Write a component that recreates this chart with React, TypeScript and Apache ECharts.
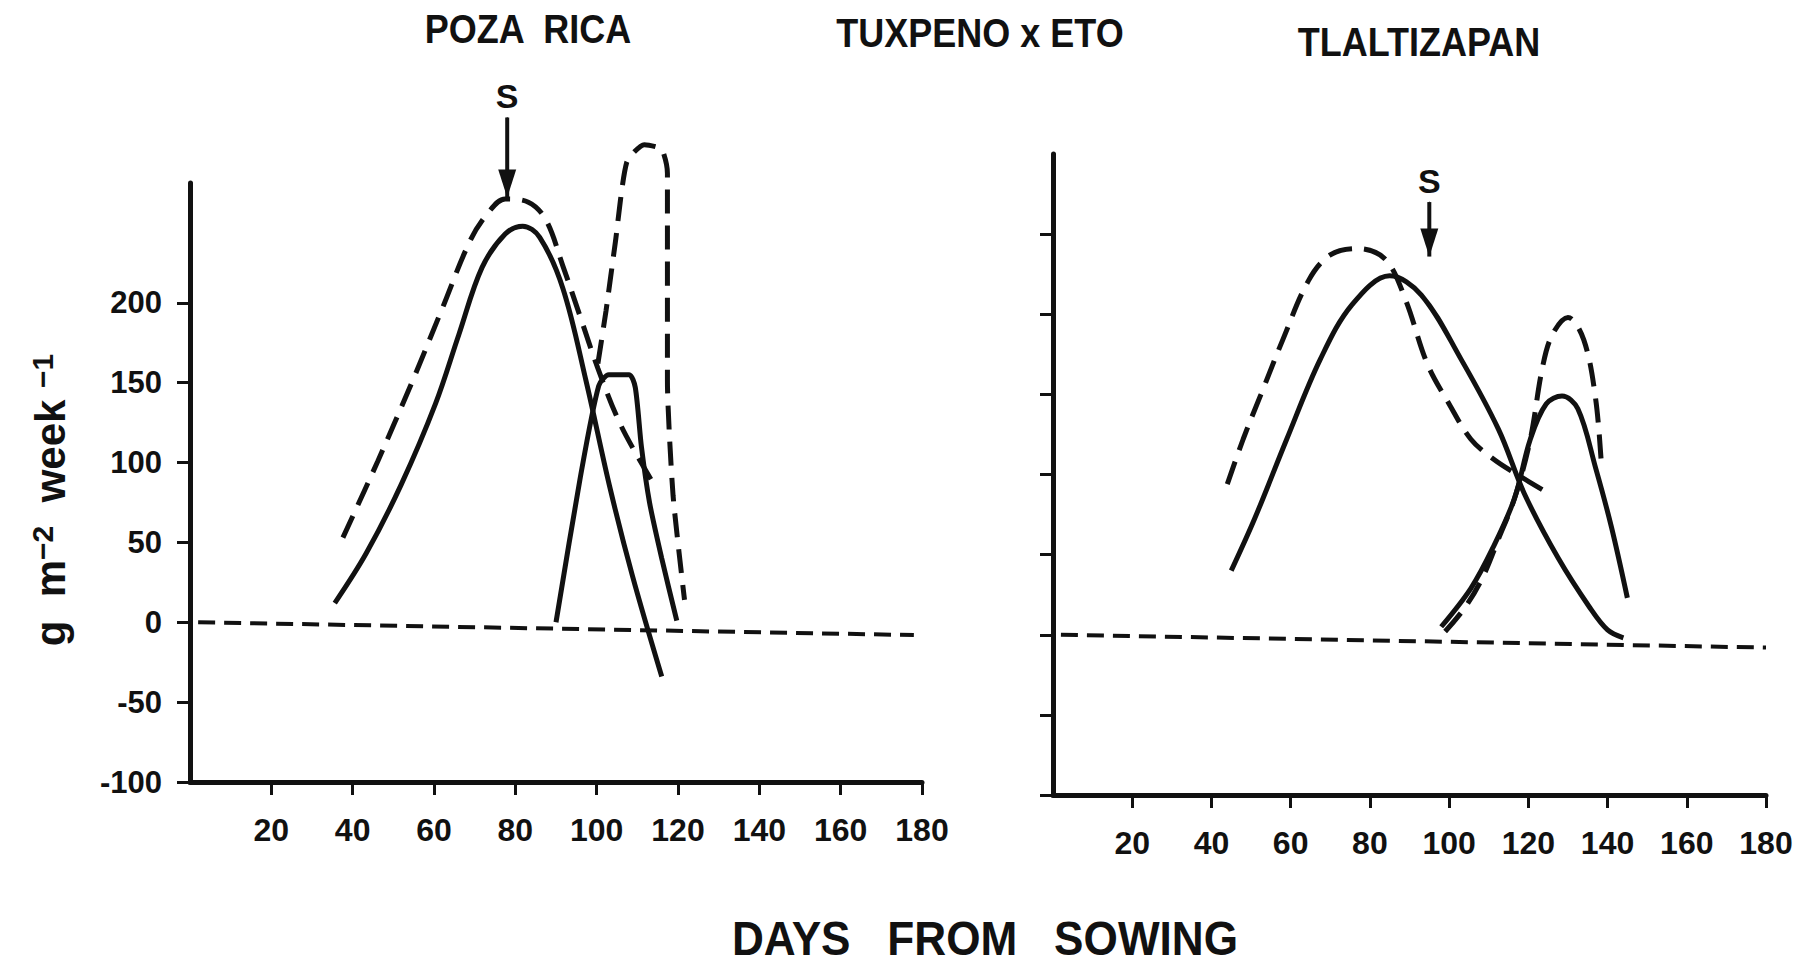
import React, { useEffect, useRef } from "react";
import * as echarts from "echarts";

// ---------- data (days from sowing, g m-2 week-1) ----------
const xTickValues = [20, 40, 60, 80, 100, 120, 140, 160, 180];
const leftYTickValues = [-100, -50, 0, 50, 100, 150, 200];
const rightYTickValues = [-100, -50, 0, 50, 100, 150, 200, 250];

const titles = ["POZA  RICA", "TUXPENO x ETO", "TLALTIZAPAN"];
const xAxisTitle = "DAYS   FROM   SOWING";
const arrowLabel = "S";

// Poza Rica
const pozaSolidMain: [number, number][] = [
  [35.6, 12], [43.3, 43], [51.9, 86], [60.4, 137], [66.1, 180], [71.8, 222],
  [77.5, 243], [81.8, 248], [86, 241], [91.7, 209], [97.4, 151], [103.1, 86],
  [108.8, 29], [116, -34],
];
const pozaDashedMain: [number, number][] = [
  [37.6, 53], [46.2, 101], [54.7, 151], [61.8, 195], [68.9, 239], [73.2, 256],
  [77.5, 265], [83.2, 263], [87.5, 252], [91.7, 223], [96, 191], [100.3, 159],
  [106, 123], [113.7, 88],
];
const pozaSolidSecond: [number, number][] = [
  [90, 0], [96, 91], [100.5, 148], [103, 155], [108, 155], [109.5, 147],
  [111, 110], [113, 75], [116, 40], [119.7, 1],
];
const pozaDashedSecond: [number, number][] = [
  [100.3, 162], [102.3, 195], [104.6, 238], [107.4, 288], [111.7, 299],
  [116, 296], [117.4, 281], [117.4, 151], [118.8, 79], [121.6, 14],
];
const pozaBaseline: [number, number][] = [[2, 0], [178, -8]];
const pozaArrow: [number, number][] = [[78, 316], [78, 266]];

// Tlaltizapan
const tlalSolidMain: [number, number][] = [
  [45, 40], [51, 73], [59, 122], [67.5, 172], [75.5, 206], [85, 224], [93, 212],
  [103, 172], [112.5, 128], [119, 88], [127.5, 48], [135.5, 17], [140, 3], [144, -2],
];
const tlalDashedMain: [number, number][] = [
  [44, 94], [48, 122], [52.5, 150], [58, 184], [64.5, 221], [70, 237], [77, 241],
  [84, 234], [89, 209], [94.5, 169], [100, 144], [105.5, 122], [111, 110],
  [116.5, 101], [126, 87],
];
const tlalSolidSecond: [number, number][] = [
  [98, 5], [105.5, 29], [111, 54], [116.5, 85], [120.5, 122], [124.5, 144],
  [128.5, 149], [132.5, 141], [137, 104], [141, 67], [145, 23],
];
const tlalDashedSecond: [number, number][] = [
  [99, 2], [104, 17], [108.5, 36], [112.5, 60], [116.5, 85], [120.5, 122],
  [123.5, 166], [126, 187], [130, 198], [134, 184], [137, 147], [138.5, 104],
];
const tlalBaseline: [number, number][] = [[2, 0], [180, -8]];
const tlalArrow: [number, number][] = [[95, 270], [95, 236]];

// ---------- styling ----------
const INK = "#111";
const FONT = "'Liberation Sans', Arial, sans-serif";

function curve(data: [number, number][], idx: number, dashed: boolean, smooth = 0.35) {
  return {
    type: "line",
    xAxisIndex: idx,
    yAxisIndex: idx,
    data,
    smooth,
    clip: false,
    symbol: "none",
    lineStyle: { color: INK, width: 5, type: dashed ? [24, 12] : "solid", cap: "butt" },
    silent: true,
  };
}

function baseline(data: [number, number][], idx: number) {
  return {
    type: "line",
    xAxisIndex: idx,
    yAxisIndex: idx,
    data,
    clip: false,
    symbol: "none",
    lineStyle: { color: INK, width: 4, type: [17, 9] },
    silent: true,
  };
}

const arrowLabelStyle = {
  fontSize: 34,
  fontWeight: 900,
  fontFamily: FONT,
  color: INK,
};

function arrow(data: [number, number][], idx: number) {
  return {
    type: "line",
    xAxisIndex: idx,
    yAxisIndex: idx,
    clip: false,
    showSymbol: true,
    silent: true,
    lineStyle: { color: INK, width: 4 },
    itemStyle: { color: INK },
    label: { show: false, ...arrowLabelStyle },
    data: [
      {
        value: data[0],
        symbol: "circle",
        symbolSize: 1,
        label: {
          show: true,
          formatter: () => arrowLabel,
          position: "top",
          distance: 4,
          ...arrowLabelStyle,
        },
      },
      {
        value: data[1],
        symbol: "triangle",
        symbolSize: [18, 28],
        symbolRotate: 180,
        symbolOffset: [0, "-50%"],
      },
    ],
  };
}

function xAxis(gridIndex: number) {
  return {
    type: "value",
    gridIndex,
    min: 0,
    max: 180,
    interval: 20,
    axisLine: { show: true, onZero: false, lineStyle: { color: INK, width: 5 } },
    axisTick: { show: true, customValues: xTickValues, length: 13, lineStyle: { color: INK, width: 3 } },
    axisLabel: {
      customValues: xTickValues,
      fontSize: 32,
      fontWeight: "bold",
      fontFamily: FONT,
      color: INK,
      margin: 32,
    },
    splitLine: { show: false },
  };
}

function yAxis(gridIndex: number, max: number, ticks: number[], showLabels: boolean) {
  return {
    type: "value",
    gridIndex,
    min: -100,
    max,
    interval: 50,
    axisLine: { show: true, onZero: false, lineStyle: { color: INK, width: 5 } },
    axisTick: { show: true, customValues: ticks, length: 13, lineStyle: { color: INK, width: 3 } },
    axisLabel: {
      show: showLabels,
      customValues: ticks,
      fontSize: 31,
      fontWeight: "bold",
      fontFamily: FONT,
      color: INK,
      margin: 28,
    },
    splitLine: { show: false },
  };
}

export default function App() {
  const ref = useRef<HTMLDivElement>(null);

  useEffect(() => {
    if (!ref.current) return;
    const chart = echarts.init(ref.current, null, { renderer: "svg" });
    const titleStyle = (text: string) => ({
      text,
      fontSize: 40,
      fontWeight: "bold",
      fontFamily: FONT,
      fill: INK,
      align: "center",
      verticalAlign: "middle",
      lineHeight: 44,
    });
    chart.setOption({
      animation: false,
      backgroundColor: "#fff",
      grid: [
        { left: 190, top: 183, width: 732, height: 599 },
        { left: 1053, top: 154, width: 713, height: 641 },
      ],
      xAxis: [xAxis(0), xAxis(1)],
      yAxis: [
        yAxis(0, 275, leftYTickValues, true),
        yAxis(1, 300, rightYTickValues, false),
      ],
      graphic: [
        { type: "text", x: 528, y: 29, scaleX: 0.9, style: titleStyle(titles[0]) },
        { type: "text", x: 980, y: 33, scaleX: 0.9, style: titleStyle(titles[1]) },
        { type: "text", x: 1419, y: 42, scaleX: 0.9, style: titleStyle(titles[2]) },
        {
          type: "text",
          x: 985,
          y: 938,
          scaleX: 0.92,
          style: { ...titleStyle(xAxisTitle), fontSize: 48, lineHeight: 48 },
        },
        {
          type: "text",
          x: 50,
          y: 500,
          rotation: Math.PI / 2,
          style: {
            text: "g  m{sup|−2}  week {sup|−1}",
            fontSize: 42,
            fontWeight: "bold",
            fontFamily: FONT,
            fill: INK,
            align: "center",
            verticalAlign: "middle",
            rich: {
              sup: {
                fontSize: 30,
                fontWeight: "bold",
                fontFamily: FONT,
                fill: INK,
                verticalAlign: "top",
                padding: [0, 0, 16, 0],
              },
            },
          },
        },
      ],
      series: [
        curve(pozaSolidMain, 0, false),
        curve(pozaDashedMain, 0, true),
        curve(pozaSolidSecond, 0, false, 0.25),
        curve(pozaDashedSecond, 0, true, 0.2),
        baseline(pozaBaseline, 0),
        arrow(pozaArrow, 0),
        curve(tlalSolidMain, 1, false),
        curve(tlalDashedMain, 1, true),
        curve(tlalSolidSecond, 1, false),
        curve(tlalDashedSecond, 1, true),
        baseline(tlalBaseline, 1),
        arrow(tlalArrow, 1),
      ],
    });
    return () => chart.dispose();
  }, []);

  return (
    <div
      ref={ref}
      style={{ position: "absolute", left: 0, top: 0, width: 1807, height: 965, background: "#fff" }}
    />
  );
}
